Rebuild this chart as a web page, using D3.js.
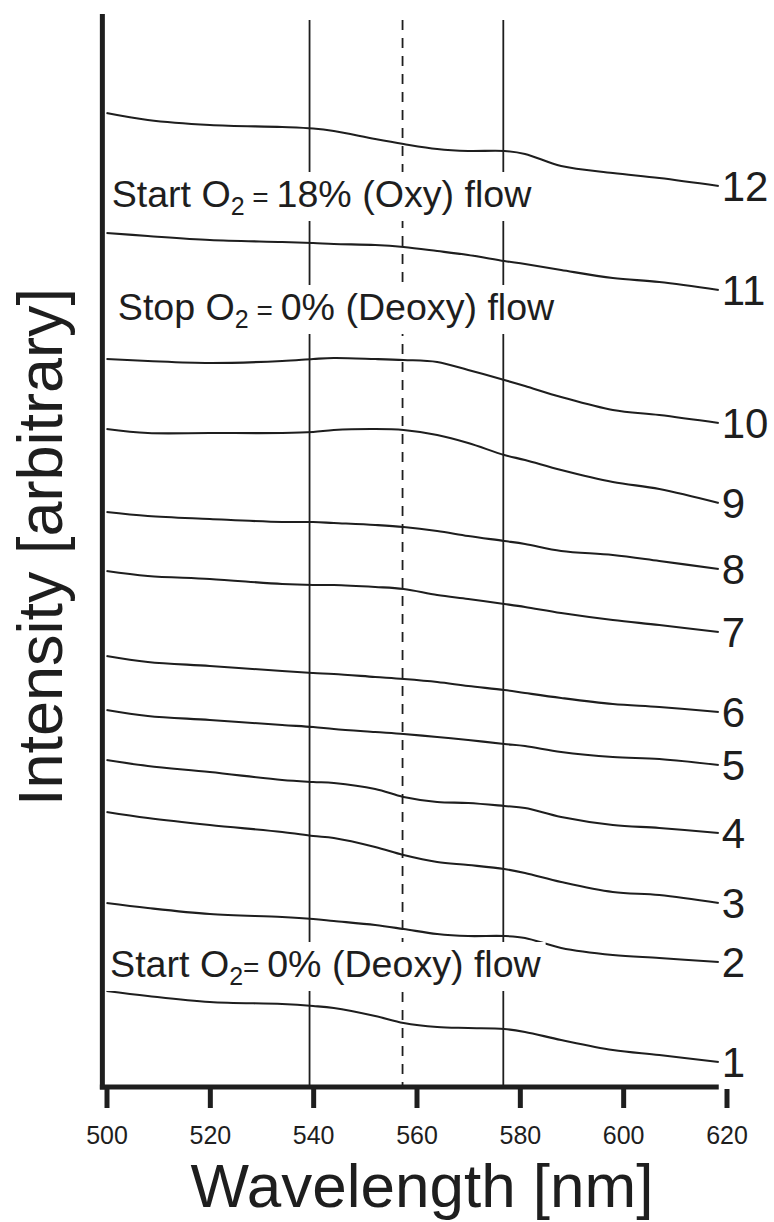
<!DOCTYPE html>
<html><head><meta charset="utf-8">
<script src="https://cdn.jsdelivr.net/npm/d3@7"></script>
<style>body{margin:0;background:#fff}</style>
</head><body>
<svg id="chart" width="774" height="1222" xmlns="http://www.w3.org/2000/svg"></svg>
<script>
// ---- data (wavelength in nm, intensity in arbitrary units) ----
const wavelengths = [500, 508, 520, 534, 540, 544, 552, 557.5, 564, 570, 577, 581, 588, 598, 607, 618.5];
const trace1  = [96, 91, 85, 83, 81, 79, 71, 64, 60, 59, 58, 55, 47, 37, 32, 25];
const trace2  = [184, 179, 173, 170, 168, 166, 162, 158, 153, 151, 151, 149, 139, 132, 129, 125];
const trace3  = [275, 269, 262, 255, 251, 249, 240, 232, 225, 222, 218, 214, 205, 195, 192, 184];
const trace4  = [327, 321, 315, 307, 305, 304, 298, 290, 285, 284, 281, 279, 270, 262, 259, 254];
const trace5  = [377, 371, 367, 362, 360, 358, 355, 353, 350, 347, 343, 341, 335, 330, 328, 322];
const trace6  = [431, 425, 421, 416, 414, 413, 410, 408, 405, 401, 397, 394, 389, 383, 380, 375];
const trace7  = [516, 511, 508, 503, 502, 502, 500, 498, 492, 488, 483, 480, 474, 467, 462, 455];
const trace8  = [575, 571, 568, 565, 565, 564, 562, 560, 556, 551, 546, 543, 536, 532, 526, 518];
const trace9  = [658, 654, 654, 654, 655, 657, 658, 657, 652, 644, 632, 627, 617, 605, 598, 584];
const trace10 = [728, 726, 724, 726, 728, 729, 728, 727, 725, 717, 707, 701, 690, 677, 672, 664];
const trace11 = [854, 851, 847, 845, 844, 843, 842, 840, 836, 832, 826, 823, 817, 809, 805, 797];
const trace12 = [974, 967, 962, 960, 958.5, 956, 948, 943, 938, 936, 936, 933, 921, 914, 909, 901];
const seriesLabels = ["1","2","3","4","5","6","7","8","9","10","11","12"];
const xTicks = [500, 520, 540, 560, 580, 600, 620];
const solidMarkers = [539.3, 576.8];
const dashedMarkers = [557.3];
const annotationTexts = [
  ["Start O", "2", " = ", "18% (Oxy) flow"],
  ["Stop O", "2", " = ", "0% (Deoxy) flow"],
  ["Start O", "2", "= ", "0% (Deoxy) flow"]
];
const annotationAt = [[501.0, 880], [502.2, 767], [500.7, 110]]; // [nm, intensity] anchors
const xTitle = "Wavelength [nm]";
const yTitle = "Intensity [arbitrary]";

// ---- drawing ----
const svg = d3.select("#chart");
const ink = "#1e1e1e";
const font = "'Liberation Sans', Arial, Helvetica, sans-serif";
const x = d3.scaleLinear().domain([500, 620]).range([106.5, 726.5]);
const y = d3.scaleLinear().domain([0, 1073]).range([1087, 14]);
const traces = [trace1, trace2, trace3, trace4, trace5, trace6, trace7, trace8, trace9, trace10, trace11, trace12];

// marker lines
const gm = svg.append("g");
gm.selectAll("line.solid").data(solidMarkers).join("line").attr("class", "solid")
  .attr("x1", d => x(d)).attr("x2", d => x(d))
  .attr("y1", y(1067)).attr("y2", y(0))
  .attr("stroke", ink).attr("stroke-width", 1.8);
gm.selectAll("line.dash").data(dashedMarkers).join("line").attr("class", "dash")
  .attr("x1", d => x(d)).attr("x2", d => x(d))
  .attr("y1", y(1067)).attr("y2", y(0))
  .attr("stroke", ink).attr("stroke-width", 1.8).attr("stroke-dasharray", "10,8");

// traces
const line = d3.line()
  .x((d, i) => x(wavelengths[i]))
  .y(d => y(d))
  .curve(d3.curveCatmullRom.alpha(0.5));
svg.append("g").selectAll("path").data(traces).join("path")
  .attr("d", line).attr("fill", "none").attr("stroke", ink)
  .attr("stroke-width", 2.1).attr("stroke-linejoin", "round");

// series labels
const last = wavelengths.length - 1;
svg.append("g").selectAll("text").data(traces).join("text")
  .attr("x", x(wavelengths[last]) + 3)
  .attr("y", d => y(d[last]) + 15)
  .attr("font-family", font).attr("font-size", 42).attr("fill", ink)
  .text((d, i) => seriesLabels[i]);

// annotations with white knock-out boxes
annotationTexts.forEach((parts, k) => {
  const g = svg.append("g");
  const rect = g.append("rect").attr("fill", "#fff");
  const t = g.append("text")
    .attr("x", x(annotationAt[k][0])).attr("y", y(annotationAt[k][1]))
    .attr("font-family", font).attr("font-size", 37.6).attr("fill", ink);
  t.append("tspan").text(parts[0]);
  t.append("tspan").attr("font-size", 25).attr("dy", 8).text(parts[1]);
  t.append("tspan").attr("font-size", 28).attr("dy", -8).text(parts[2]);
  t.append("tspan").text(parts[3]);
  const bb = t.node().getBBox();
  rect.attr("x", bb.x - 4).attr("y", bb.y - 1).attr("width", bb.width + 8).attr("height", bb.height + 2);
});

// x axis
const xAxis = d3.axisBottom(x).tickValues(xTicks).tickSize(19).tickPadding(18).tickFormat(d3.format("d"));
const gx = svg.append("g").attr("transform", "translate(0,1089)").call(xAxis);
gx.select(".domain").remove();
gx.selectAll(".tick line").attr("stroke", ink).attr("stroke-width", 5);
gx.selectAll(".tick text").attr("fill", ink).attr("font-size", 25).attr("font-family", font);

svg.append("line")
  .attr("x1", x(499.2) - 2.5).attr("x2", x(618.5))
  .attr("y1", y(0)).attr("y2", y(0))
  .attr("stroke", ink).attr("stroke-width", 5);
svg.append("line")
  .attr("x1", x(499.2)).attr("x2", x(499.2))
  .attr("y1", y(1073)).attr("y2", y(0) + 2.5)
  .attr("stroke", ink).attr("stroke-width", 5);

// titles
svg.append("text").attr("x", 422).attr("y", 1207)
  .attr("text-anchor", "middle").attr("font-family", font).attr("font-size", 62).attr("fill", ink)
  .text(xTitle);
svg.append("text").attr("transform", "translate(62,547) rotate(-90)")
  .attr("text-anchor", "middle").attr("font-family", font).attr("font-size", 63).attr("fill", ink)
  .text(yTitle);
</script>
</body></html>
